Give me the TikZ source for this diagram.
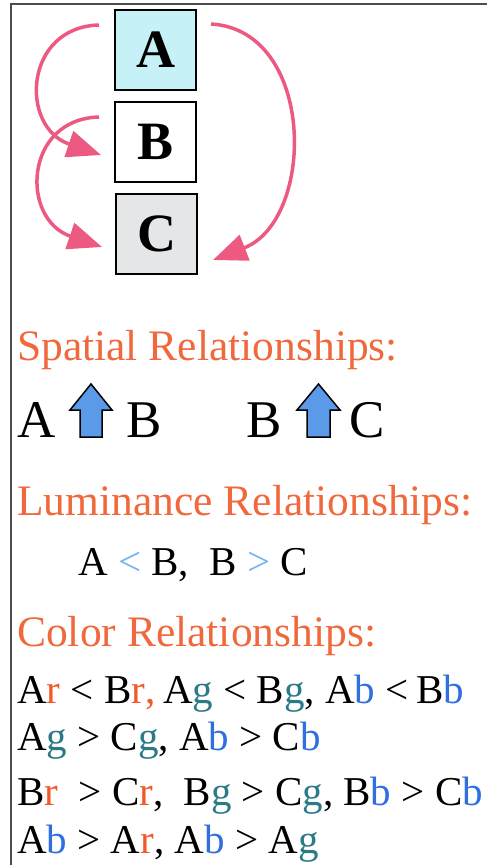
\documentclass[tikz,border=0pt]{standalone}
\usepackage{fontspec}
\setmainfont{Liberation Serif}
\usetikzlibrary{arrows.meta}
\definecolor{titleor}{HTML}{F0683C}
\definecolor{rcol}{HTML}{F05A28}
\definecolor{gcol}{HTML}{2B7A86}
\definecolor{bcol}{HTML}{2F6FE0}
\definecolor{lumcol}{HTML}{74B4F0}
\definecolor{upcol}{HTML}{5B9AE8}
\definecolor{pinkc}{HTML}{EC5A82}
\definecolor{boxa}{HTML}{C6F2F7}
\definecolor{boxc}{HTML}{E4E6E8}
\newcommand{\chR}{\textcolor{rcol}{r}}
\newcommand{\chG}{\textcolor{gcol}{g}}
\newcommand{\chB}{\textcolor{bcol}{b}}
\begin{document}
\begin{tikzpicture}[x=1pt,y=1pt,
  lbox/.style={draw=black,line width=2pt,minimum width=81pt,minimum height=80pt,inner sep=0pt,
    font=\fontsize{54}{54}\selectfont\bfseries},
  curvarrow/.style={draw=pinkc,line width=3.5pt,-{Triangle[length=34pt,width=27pt]}},
  title/.style={anchor=base west,inner sep=0pt,text=titleor,font=\fontsize{43.5}{43.5}\selectfont},
  big/.style={anchor=base west,inner sep=0pt,font=\fontsize{53}{53}\selectfont},
  rel/.style={anchor=base west,inner sep=0pt,font=\fontsize{41}{41}\selectfont},
  uparrow/.style={draw=black,line width=1.5pt,fill=upcol,line join=miter}
]
\useasboundingbox (0,0) rectangle (487,-865);
% frame
\draw[line width=1.5pt,draw=black!70] (487,-4) -- (11,-4) -- (11,-865);
% boxes
\node[lbox,fill=boxa] (A) at (155.5,-50) {A};
\node[lbox,fill=white] (B) at (155.5,-142) {B};
\node[lbox,fill=boxc] (C) at (156.5,-234) {C};
% curved arrows
\draw[curvarrow] ([shift={(-15,25)}]A.west) .. controls +(-75,-2) and +(-82,28) .. ([shift={(-13,-13)}]B.west);
\draw[curvarrow] ([shift={(-15,25)}]B.west) .. controls +(-75,-2) and +(-82,28) .. ([shift={(-13,-13)}]C.west);
\draw[curvarrow] ([shift={(14,26)}]A.east) .. controls +(105,-6) and +(103,40) .. ([shift={(15,-26)}]C.east);
% spatial
\node[title] (t1) at (17,-360) {Spatial Relationships:};
\node[big] (sa) at (17,-437) {A};
\node[big] (sb) at (126,-437) {B};
\node[big] (sb2) at (246,-437) {B};
\node[big] (sc) at (349,-437) {C};
\draw[uparrow] (91,-384) -- (112,-410) -- (102,-410) -- (102,-437) -- (80,-437) -- (80,-410) -- (70,-410) -- cycle;
\draw[uparrow] (318.5,-384) -- (340,-410) -- (330,-410) -- (330,-437) -- (307,-437) -- (307,-410) -- (297,-410) -- cycle;
% luminance
\node[title] (t2) at (17,-515) {Luminance Relationships:};
\node[rel] (lum) at (78,-575) {A \textcolor{lumcol}{<} B,\ \ B \textcolor{lumcol}{>} C};
% color
\node[title] (t3) at (17,-646) {Color Relationships:};
\node[rel] (c1) at (17,-703) {A\chR{} < B\chR\textcolor{rcol}{,}\ \kern-2.5pt A\chG{} < B\chG, A\chB{} <\ \kern-2.5pt B\chB};
\node[rel] (c2) at (17,-750) {A\chG{} > C\chG, A\chB{} > C\chB};
\node[rel] (c3) at (17,-805) {B\chR\ \ > C\chR,\ \ B\chG{} > C\chG, B\chB{} > C\chB};
\node[rel] (c4) at (17,-853) {A\chB{} > A\chR, A\chB{} > A\chG};
\end{tikzpicture}
\end{document}
